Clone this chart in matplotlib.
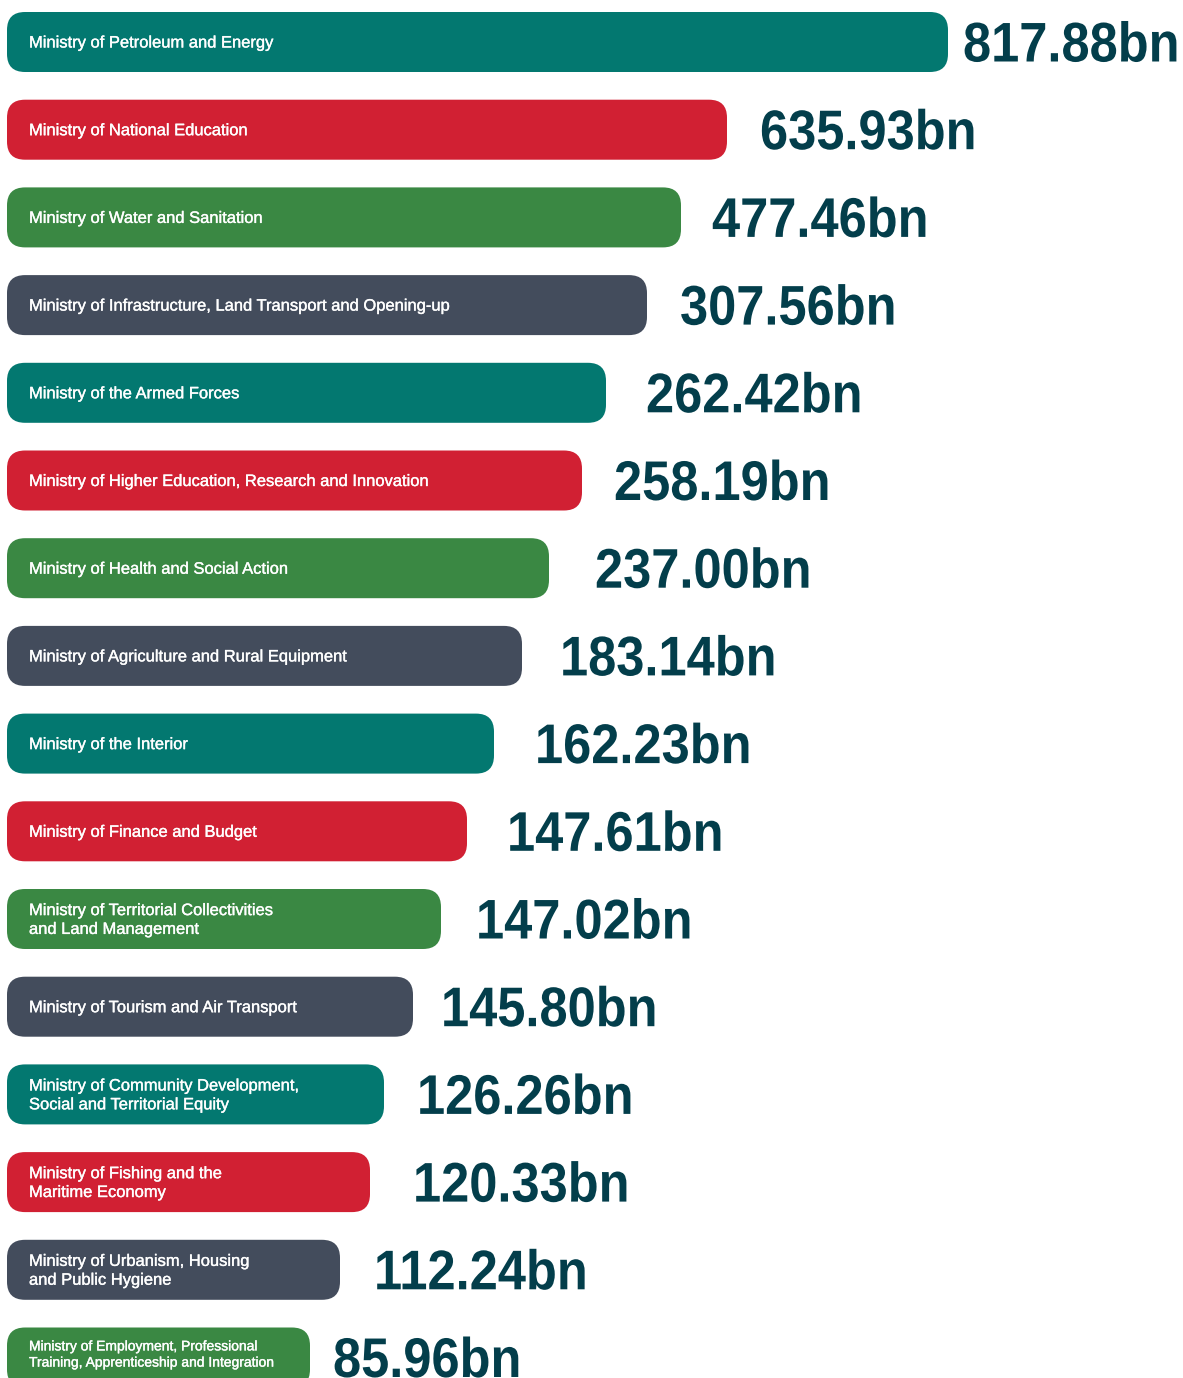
import matplotlib
matplotlib.use("Agg")
import matplotlib.pyplot as plt
from matplotlib.patches import FancyBboxPatch, PathPatch
from matplotlib.textpath import TextPath
from matplotlib.font_manager import FontProperties
from matplotlib.transforms import Affine2D
import matplotlib.patheffects as pe

ministries = [
    "Ministry of Petroleum and Energy",
    "Ministry of National Education",
    "Ministry of Water and Sanitation",
    "Ministry of Infrastructure, Land Transport and Opening-up",
    "Ministry of the Armed Forces",
    "Ministry of Higher Education, Research and Innovation",
    "Ministry of Health and Social Action",
    "Ministry of Agriculture and Rural Equipment",
    "Ministry of the Interior",
    "Ministry of Finance and Budget",
    "Ministry of Territorial Collectivities\nand Land Management",
    "Ministry of Tourism and Air Transport",
    "Ministry of Community Development,\nSocial and Territorial Equity",
    "Ministry of Fishing and the\nMaritime Economy",
    "Ministry of Urbanism, Housing\nand Public Hygiene",
    "Ministry of Employment, Professional\nTraining, Apprenticeship and Integration",
]
values = [817.88, 635.93, 477.46, 307.56, 262.42, 258.19, 237.00, 183.14,
          162.23, 147.61, 147.02, 145.80, 126.26, 120.33, 112.24, 85.96]
bar_len = [941, 720, 674, 640, 599, 575, 542, 515, 487, 460, 434, 406, 377, 363, 333, 303]

TEAL, RED, GREEN, SLATE = "#037870", "#D12033", "#3A8843", "#434C5C"
colors = [TEAL, RED, GREEN, SLATE, TEAL, RED, GREEN, SLATE,
          TEAL, RED, GREEN, SLATE, TEAL, RED, SLATE, GREEN]
# spacing between bar end and its value label
label_gap = [15, 33, 31, 33, 40, 32, 46, 38, 41, 40, 35, 28, 33, 43, 34, 23]

W, H = 1183, 1378
fig = plt.figure(figsize=(W / 100, H / 100), dpi=100)
ax = fig.add_axes([0, 0, 1, 1])
ax.set_xlim(0, W)
ax.set_ylim(H, 0)
ax.axis("off")

x0 = 7
top0 = 12
pitch = 87.7
bar_h = 60
num_fp = FontProperties(family="Liberation Sans", weight="bold")
num_size = 55.9   # gives ~40px cap height
num_sx = 0.905    # condensed look

for i, (name, val, L) in enumerate(zip(ministries, values, bar_len)):
    top = top0 + i * pitch
    yc = top + bar_h / 2
    ax.add_patch(FancyBboxPatch((x0, top), L, bar_h,
                                boxstyle="round,pad=0,rounding_size=18",
                                fc=colors[i], ec="none"))
    last = i == len(ministries) - 1
    fs = 10.0 if last else 11.9
    ax.text(x0 + 22, yc + (-3 if last else 1), name, color="white", fontsize=fs,
            family="Liberation Sans", va="center", ha="left",
            linespacing=1.2 if last else 1.32,
            path_effects=[pe.withStroke(linewidth=0.25, foreground="white")])

    tp = TextPath((0, 0), f"{val:.2f}bn", size=num_size, prop=num_fp)
    tr = Affine2D().scale(num_sx, -1).translate(x0 + L + label_gap[i], yc + 19.5)
    ax.add_patch(PathPatch(tr.transform_path(tp), fc="#033E4B", ec="none"))

fig.savefig("out.png", dpi=100)
